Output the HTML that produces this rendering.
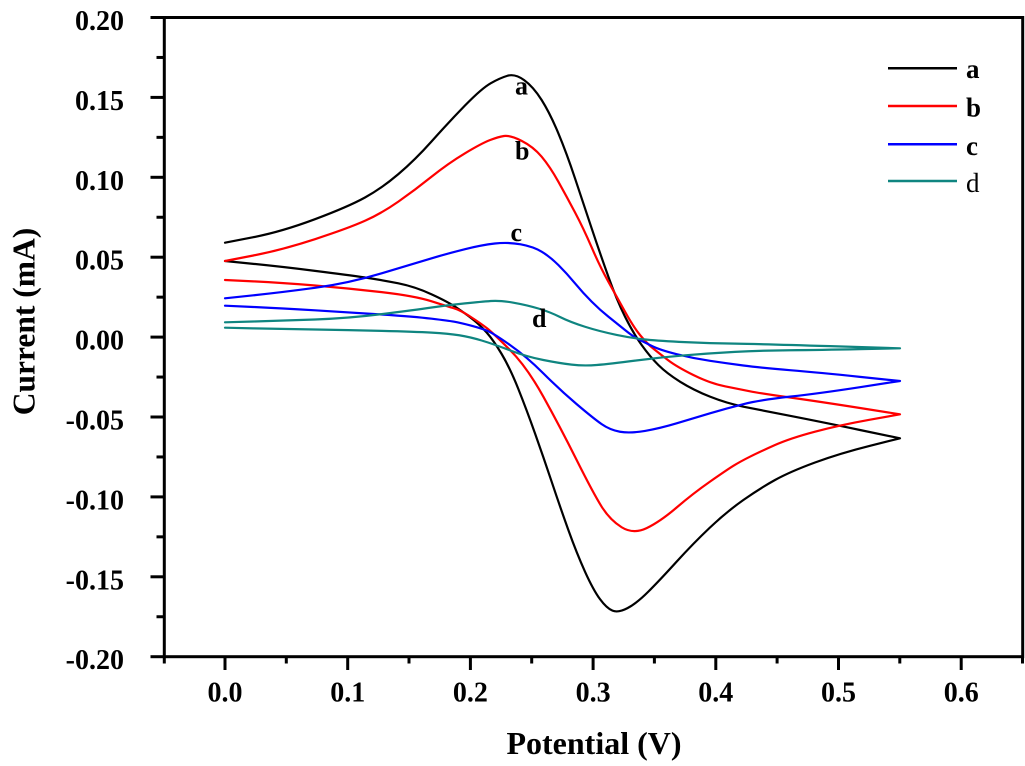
<!DOCTYPE html>
<html><head><meta charset="utf-8"><style>
html,body{margin:0;padding:0;background:#fff;}
svg{display:block;}
text{font-family:"Liberation Serif","Times New Roman",serif;font-weight:bold;fill:#000;}
</style></head><body>
<svg width="1025" height="766" viewBox="0 0 1025 766" xmlns="http://www.w3.org/2000/svg">
<rect width="1025" height="766" fill="#fff"/>
<g fill="none" stroke-width="2.2" stroke-linejoin="round" stroke-linecap="round">
<path stroke="#000" d="M225,242.7 L253.35,237.2 Q281.7,231.7 315,219.2 Q348.3,206.7 365,197.5 Q381.7,188.3 398.35,174.15 Q415,160 431.5,141.5 Q448,123 464.85,105.65 Q481.7,88.3 490.85,83.15 Q500,78 507.5,75.75 Q515,73.5 524.15,80.1 Q533.3,86.7 541.65,100 Q550,113.3 558.35,133.3 Q566.7,153.3 575,178.3 Q583.3,203.3 591.65,228.3 Q600,253.3 608.35,276.65 Q616.7,300 625,316.65 Q633.3,333.3 641.65,345 Q650,356.7 658.35,365 Q666.7,373.3 680,381.65 Q693.3,390 710,396.65 Q726.7,403.3 743.35,406.65 Q760,410 790,415.85 Q820,421.7 860,430 L900,438.3 L870,445.8 Q840,453.3 815,462.5 Q790,471.7 775,480 Q760,488.3 743.35,500 Q726.7,511.7 710,527.5 Q693.3,543.3 676.65,561.65 Q660,580 648.35,591.65 Q636.7,603.3 627.5,608.15 Q618.3,613 612.5,610.65 Q606.7,608.3 600,599.15 Q593.3,590 585,571.65 Q576.7,553.3 568.35,530 Q560,506.7 551.65,481.7 Q543.3,456.7 535,433.35 Q526.7,410 518.35,389 Q510,368 501.65,354 Q493.3,340 486.65,332.5 Q480,325 473,319.5 Q466,314 457.15,308 Q448.3,302 431.65,294.35 Q415,286.7 398.35,283.35 Q381.7,280 365,277.5 Q348.3,275 315,270.85 Q281.7,266.7 253.35,263.85 L225,261"/>
<path stroke="#ff0000" d="M225,261 L253.35,255.5 Q281.7,250 315,239.15 Q348.3,228.3 365,220.8 Q381.7,213.3 398.35,201.65 Q415,190 431.65,176.65 Q448.3,163.3 465,153.3 Q481.7,143.3 489.85,140.15 Q498,137 504,136 Q510,135 521.65,140.85 Q533.3,146.7 541.65,156.7 Q550,166.7 558.35,181.7 Q566.7,196.7 575,212.35 Q583.3,228 591.65,247.35 Q600,266.7 608.35,281.7 Q616.7,296.7 625,311.7 Q633.3,326.7 640,335 Q646.7,343.3 653.35,348.65 Q660,354 668.35,360.35 Q676.7,366.7 693.35,375 Q710,383.3 725,386.3 Q740,389.3 750,391.3 Q760,393.3 790,397.5 Q820,401.7 860,408 L900,414.3 L870,419.65 Q840,425 815,431.65 Q790,438.3 775,445 Q760,451.7 750,456.7 Q740,461.7 733.35,465.85 Q726.7,470 710,481.65 Q693.3,493.3 676.65,507.5 Q660,521.7 646.65,528.1 Q633.3,534.5 621.65,527.25 Q610,520 601.65,506.65 Q593.3,493.3 576.65,460 Q560,426.7 543.35,396.7 Q526.7,366.7 510,350 Q493.3,333.3 487.5,328.65 Q481.7,324 470.85,317 Q460,310 454.15,308.35 Q448.3,306.7 431.65,301.35 Q415,296 381.65,292.15 Q348.3,288.3 315,285.5 Q281.7,282.7 253.35,281.35 L225,280"/>
<path stroke="#0000ff" d="M225,298.3 L253.35,295.3 Q281.7,292.3 315,287.8 Q348.3,283.3 381.65,273.3 Q415,263.3 431.65,258.3 Q448.3,253.3 465,249.15 Q481.7,245 494.85,243.5 Q508,242 520.65,244.35 Q533.3,246.7 541.65,251.7 Q550,256.7 558.35,265 Q566.7,273.3 575,283.3 Q583.3,293.3 591.65,301.65 Q600,310 608.35,316.65 Q616.7,323.3 625,330 Q633.3,336.7 638.3,339.2 Q643.3,341.7 651.65,345.85 Q660,350 676.65,354.15 Q693.3,358.3 710,360.8 Q726.7,363.3 743.35,365.5 Q760,367.7 790,370.2 Q820,372.7 860,376.85 L900,381 L860,387.15 Q820,393.3 790,396.65 Q760,400 743.35,404.15 Q726.7,408.3 710,413.3 Q693.3,418.3 676.65,423.3 Q660,428.3 645,430.9 Q630,433.5 620,431.75 Q610,430 601.65,424.15 Q593.3,418.3 576.65,404.15 Q560,390 543.35,373.35 Q526.7,356.7 510,345 Q493.3,333.3 487.5,330.9 Q481.7,328.5 470.85,325.6 Q460,322.7 454.15,321.7 Q448.3,320.7 431.65,318.7 Q415,316.7 381.65,314.5 Q348.3,312.3 315,310.3 Q281.7,308.3 253.35,307 L225,305.7"/>
<path stroke="#0f8580" d="M225,322.3 L253.35,321.5 Q281.7,320.7 315,319.5 Q348.3,318.3 381.65,314.15 Q415,310 431.65,307.5 Q448.3,305 465,303.35 Q481.7,301.7 490.85,301 Q500,300.3 513.35,302.65 Q526.7,305 538.35,308.5 Q550,312 560,317 Q570,322 585,326.75 Q600,331.5 616.65,334.9 Q633.3,338.3 646.65,339.65 Q660,341 685,342.15 Q710,343.3 735,343.65 Q760,344 830,346.15 L900,348.3 L860,349.15 Q820,350 790,350.25 Q760,350.5 735,351.9 Q710,353.3 685,355.3 Q660,357.3 635,360.65 Q610,364 596.65,365 Q583.3,366 571.65,364.65 Q560,363.3 543.35,360 Q526.7,356.7 510,350.35 Q493.3,344 481.65,340.5 Q470,337 459.15,335.25 Q448.3,333.5 431.65,332.6 Q415,331.7 381.65,330.85 Q348.3,330 315,329.5 Q281.7,329 253.35,328.35 L225,327.7"/>
</g>
<!-- frame -->
<rect x="164.3" y="17.5" width="858.4" height="639.2" fill="none" stroke="#000" stroke-width="3"/>
<!-- in-plot labels -->
<text x="515" y="94.5" font-size="26">a</text>
<text x="515" y="159.5" font-size="26">b</text>
<text x="510.5" y="241" font-size="26">c</text>
<text x="532" y="327" font-size="26">d</text>
<!-- legend -->
<g stroke-width="2.5">
<line x1="888" y1="68.3" x2="957" y2="68.3" stroke="#000"/>
<line x1="888" y1="106" x2="957" y2="106" stroke="#ff0000"/>
<line x1="888" y1="144.3" x2="957" y2="144.3" stroke="#0000ff"/>
<line x1="888" y1="181" x2="957" y2="181" stroke="#0f8580"/>
</g>
<text x="966" y="78" font-size="27">a</text>
<text x="966" y="116.5" font-size="27">b</text>
<text x="966" y="155" font-size="27">c</text>
<text x="966" y="192" font-size="27" style="font-weight:normal">d</text>
<!-- axis titles -->
<text x="594" y="754" font-size="32" text-anchor="middle">Potential (V)</text>
<text transform="translate(34.5,321.5) rotate(-90)" font-size="31.5" text-anchor="middle">Current (mA)</text>
<g stroke="#000" stroke-width="3">
<!-- y ticks -->
<line x1="150.5" y1="17.5" x2="164.3" y2="17.5"/>
<line x1="156.5" y1="57.45" x2="164.3" y2="57.45"/>
<line x1="150.5" y1="97.4" x2="164.3" y2="97.4"/>
<line x1="156.5" y1="137.35" x2="164.3" y2="137.35"/>
<line x1="150.5" y1="177.3" x2="164.3" y2="177.3"/>
<line x1="156.5" y1="217.25" x2="164.3" y2="217.25"/>
<line x1="150.5" y1="257.2" x2="164.3" y2="257.2"/>
<line x1="156.5" y1="297.15" x2="164.3" y2="297.15"/>
<line x1="150.5" y1="337.1" x2="164.3" y2="337.1"/>
<line x1="156.5" y1="377.05" x2="164.3" y2="377.05"/>
<line x1="150.5" y1="417" x2="164.3" y2="417"/>
<line x1="156.5" y1="456.95" x2="164.3" y2="456.95"/>
<line x1="150.5" y1="496.9" x2="164.3" y2="496.9"/>
<line x1="156.5" y1="536.85" x2="164.3" y2="536.85"/>
<line x1="150.5" y1="576.8" x2="164.3" y2="576.8"/>
<line x1="156.5" y1="616.75" x2="164.3" y2="616.75"/>
<line x1="150.5" y1="656.7" x2="164.3" y2="656.7"/>
<!-- x ticks -->
<line x1="164.3" y1="656.7" x2="164.3" y2="663.5"/>
<line x1="225" y1="656.7" x2="225" y2="670"/>
<line x1="286.3" y1="656.7" x2="286.3" y2="663.5"/>
<line x1="347.7" y1="656.7" x2="347.7" y2="670"/>
<line x1="409" y1="656.7" x2="409" y2="663.5"/>
<line x1="470.4" y1="656.7" x2="470.4" y2="670"/>
<line x1="531.7" y1="656.7" x2="531.7" y2="663.5"/>
<line x1="593.1" y1="656.7" x2="593.1" y2="670"/>
<line x1="654.4" y1="656.7" x2="654.4" y2="663.5"/>
<line x1="715.8" y1="656.7" x2="715.8" y2="670"/>
<line x1="777.1" y1="656.7" x2="777.1" y2="663.5"/>
<line x1="838.5" y1="656.7" x2="838.5" y2="670"/>
<line x1="899.8" y1="656.7" x2="899.8" y2="663.5"/>
<line x1="961.2" y1="656.7" x2="961.2" y2="670"/>
<line x1="1022.5" y1="656.7" x2="1022.5" y2="663.5"/>
</g>
<!-- y labels -->
<g font-size="28" text-anchor="end">
<text x="124" y="30">0.20</text>
<text x="124" y="109.9">0.15</text>
<text x="124" y="189.8">0.10</text>
<text x="124" y="269.7">0.05</text>
<text x="124" y="349.6">0.00</text>
<text x="124" y="429.5">-0.05</text>
<text x="124" y="509.4">-0.10</text>
<text x="124" y="589.3">-0.15</text>
<text x="124" y="669.2">-0.20</text>
</g>
<g font-size="28" text-anchor="middle">
<text x="225" y="701.5">0.0</text>
<text x="347.7" y="701.5">0.1</text>
<text x="470.4" y="701.5">0.2</text>
<text x="593.1" y="701.5">0.3</text>
<text x="715.8" y="701.5">0.4</text>
<text x="838.5" y="701.5">0.5</text>
<text x="961.2" y="701.5">0.6</text>
</g>
</svg>
</body></html>
